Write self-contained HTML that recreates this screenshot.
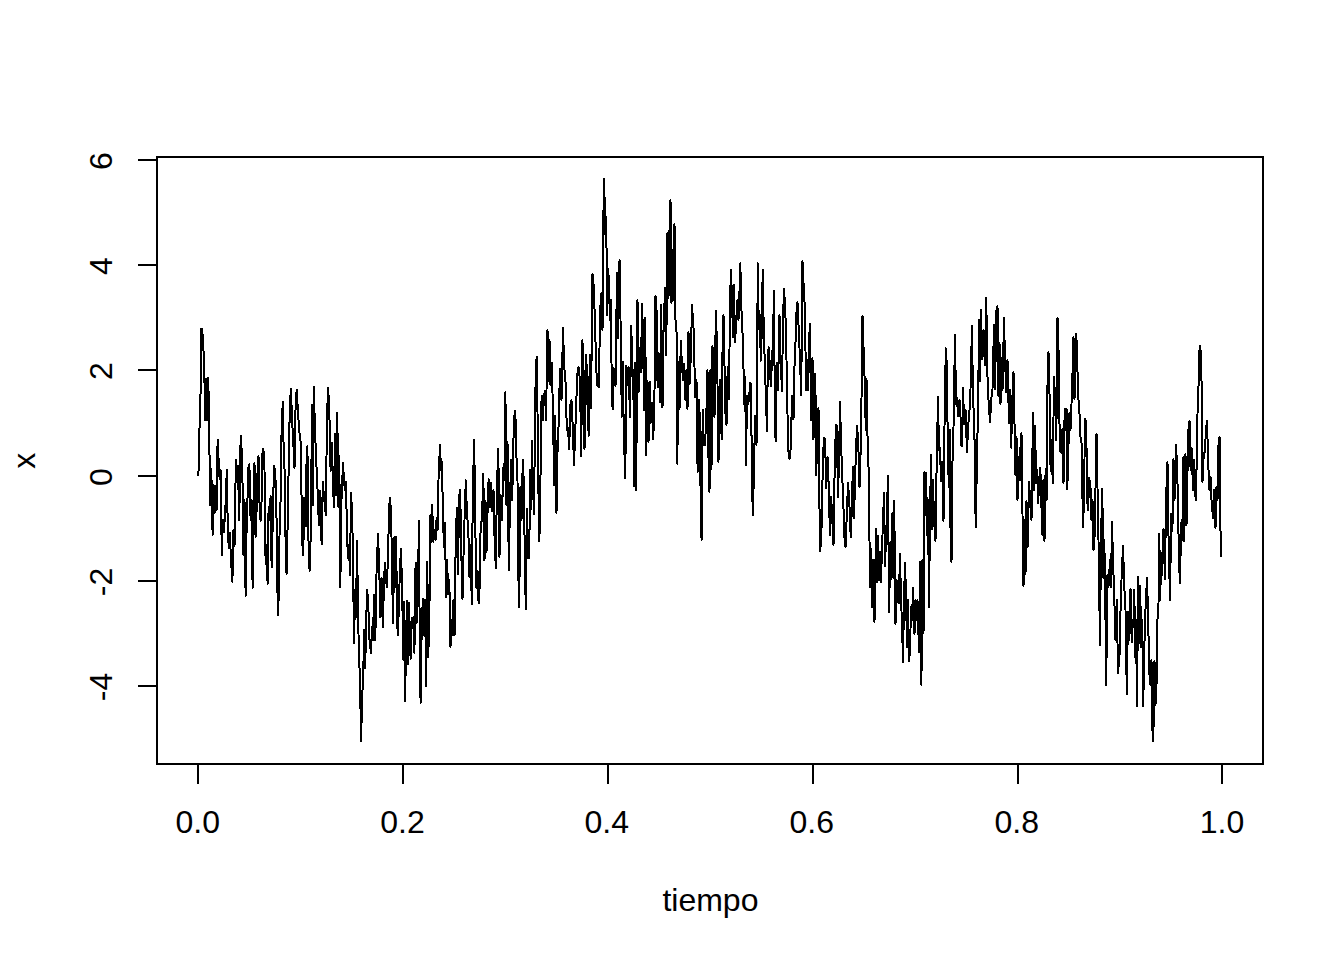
<!DOCTYPE html>
<html><head><meta charset="utf-8"><style>
html,body{margin:0;padding:0;background:#fff;}
body{width:1344px;height:960px;overflow:hidden;}
svg{display:block;}
text{font-family:"Liberation Sans",sans-serif;font-size:32px;fill:#000;}
</style></head><body>
<svg width="1344" height="960" viewBox="0 0 1344 960">
<rect x="0" y="0" width="1344" height="960" fill="#fff"/>
<rect x="157.0" y="157.0" width="1106.0" height="607.0" fill="none" stroke="#000" stroke-width="2" shape-rendering="crispEdges"/>
<path d="M198.0 764.0 L198.0 784.0 M403.0 764.0 L403.0 784.0 M608.0 764.0 L608.0 784.0 M813.0 764.0 L813.0 784.0 M1018.0 764.0 L1018.0 784.0 M1222.0 764.0 L1222.0 784.0 M157.0 686.0 L138.0 686.0 M157.0 581.0 L138.0 581.0 M157.0 476.0 L138.0 476.0 M157.0 370.0 L138.0 370.0 M157.0 265.0 L138.0 265.0 M157.0 160.0 L138.0 160.0" stroke="#000" stroke-width="2" fill="none" shape-rendering="crispEdges"/>
<path d="M198.40 476.0 L199.50 428.0 L200.30 415.0 L201.20 329.0 L202.20 329.0 L203.20 345.0 L204.20 365.0 L205.20 420.0 L206.30 379.0 L207.30 420.0 L208.30 378.0 L209.30 442.0 L210.30 505.0 L211.30 469.0 L212.60 534.6 L213.60 485.0 L214.60 513.0 L215.60 486.0 L216.60 510.0 L217.60 439.7 L218.60 460.0 L219.60 479.0 L220.60 470.0 L221.80 555.0 L222.80 520.0 L223.80 532.0 L224.80 518.0 L225.80 500.0 L226.80 470.0 L227.80 530.0 L228.80 548.0 L229.80 533.0 L231.00 560.0 L232.40 582.0 L233.40 530.0 L234.50 546.0 L235.90 459.4 L236.90 480.0 L237.90 466.0 L239.30 520.0 L240.15 452.3 L241.00 435.7 L242.30 467.0 L243.50 555.0 L244.50 500.0 L245.60 596.0 L246.60 527.0 L247.60 495.0 L248.50 466.8 L249.40 464.0 L250.60 520.0 L251.60 500.0 L252.60 588.0 L253.60 530.0 L254.50 463.4 L255.60 536.6 L256.60 510.0 L257.55 471.8 L258.50 456.5 L259.60 507.0 L260.60 521.0 L261.60 500.0 L262.50 453.3 L263.40 448.6 L264.50 470.0 L265.60 564.0 L266.60 545.0 L267.60 584.0 L268.60 507.0 L269.60 520.0 L270.60 496.0 L271.60 567.5 L272.60 528.0 L274.00 465.8 L275.20 472.0 L276.30 500.0 L277.30 586.8 L278.30 615.0 L279.50 536.0 L280.60 498.6 L281.70 423.1 L282.80 402.0 L283.80 458.0 L284.90 475.0 L285.75 562.0 L286.60 574.0 L287.70 521.6 L288.80 460.0 L289.85 404.7 L290.90 389.0 L292.10 420.0 L293.20 440.0 L294.50 468.0 L295.60 404.7 L296.70 390.0 L298.00 412.0 L299.20 430.0 L300.05 438.9 L300.90 443.0 L302.05 539.8 L303.20 555.5 L304.40 497.5 L305.70 526.0 L306.55 461.3 L307.40 446.0 L308.50 540.7 L309.60 570.8 L311.00 527.0 L311.93 405.3 L312.87 505.6 L313.80 387.0 L315.00 429.7 L316.20 460.0 L317.40 486.6 L318.90 525.0 L320.30 491.0 L321.60 544.5 L322.80 482.0 L324.30 500.0 L325.80 515.0 L327.00 414.8 L328.20 388.0 L329.40 414.0 L330.60 471.0 L332.00 443.0 L333.05 488.6 L334.10 507.0 L335.00 434.0 L335.90 494.9 L336.80 413.0 L337.80 441.7 L338.50 506.7 L339.30 456.0 L340.30 587.5 L341.50 500.0 L343.00 462.5 L344.00 481.7 L345.00 490.0 L346.00 481.7 L347.00 535.0 L348.00 558.0 L349.00 545.0 L350.00 575.0 L351.00 493.0 L352.20 514.0 L353.00 560.0 L354.00 643.0 L355.20 590.0 L356.00 617.0 L357.00 541.0 L358.00 606.7 L359.00 660.0 L360.00 675.0 L361.00 741.0 L362.30 696.0 L363.30 670.0 L364.20 630.0 L365.20 668.0 L366.20 620.0 L367.20 590.0 L368.20 603.0 L369.50 640.0 L371.00 653.0 L372.00 626.7 L373.00 640.0 L374.00 595.0 L375.30 640.0 L376.50 574.0 L378.00 534.0 L379.00 560.0 L380.50 617.5 L381.50 578.0 L383.00 627.5 L384.00 576.7 L385.20 563.0 L386.10 581.2 L387.00 587.5 L388.30 541.7 L389.30 504.1 L390.30 498.0 L391.50 537.0 L393.00 623.0 L394.50 537.0 L395.30 586.7 L396.20 536.7 L397.00 623.0 L398.00 635.4 L399.00 600.0 L400.00 568.0 L401.00 549.0 L402.00 585.0 L403.50 660.0 L404.30 602.0 L405.20 701.0 L406.00 640.0 L407.00 601.0 L407.80 664.6 L408.80 603.0 L409.80 628.0 L410.60 658.8 L411.60 617.5 L412.50 628.0 L413.50 617.0 L414.40 653.0 L415.60 562.5 L416.60 623.0 L417.60 600.0 L419.00 521.0 L419.80 657.0 L420.60 703.0 L421.80 620.0 L423.00 599.0 L424.00 635.0 L425.00 600.0 L426.20 686.5 L427.30 561.7 L428.20 657.0 L429.30 620.0 L430.50 515.0 L431.30 541.7 L432.20 505.0 L433.30 541.7 L434.50 530.0 L435.50 540.0 L436.60 518.0 L437.60 530.0 L438.50 480.0 L440.00 444.6 L441.00 470.0 L442.00 462.0 L443.00 520.0 L444.00 546.7 L445.00 523.0 L446.00 596.7 L447.00 560.0 L448.30 594.0 L449.30 580.0 L450.50 646.7 L451.50 620.0 L452.60 635.4 L453.50 600.0 L454.60 635.0 L455.80 533.5 L457.00 507.5 L458.00 574.6 L459.10 497.2 L460.20 490.0 L461.20 548.0 L462.50 599.0 L463.50 556.0 L464.50 520.0 L465.80 480.4 L467.00 516.0 L468.20 525.0 L469.50 577.0 L470.50 545.0 L471.80 604.0 L472.80 491.0 L474.20 440.0 L475.30 527.0 L476.50 588.0 L477.50 571.0 L478.40 600.1 L479.30 603.0 L480.30 537.0 L481.15 522.5 L482.00 520.0 L483.30 473.5 L484.50 560.5 L485.50 501.0 L486.50 552.0 L487.60 510.0 L488.60 479.4 L489.80 507.0 L491.00 483.0 L492.30 511.0 L493.50 490.0 L494.60 540.0 L495.80 568.0 L496.90 487.0 L498.30 449.0 L499.50 556.6 L500.60 495.0 L502.00 520.0 L503.20 467.6 L504.30 480.0 L505.40 392.0 L506.50 505.0 L507.50 442.0 L508.80 570.0 L510.00 499.0 L511.20 459.7 L512.20 500.0 L513.50 438.0 L514.40 416.1 L515.30 411.0 L516.50 457.7 L517.50 481.0 L518.35 575.1 L519.20 607.0 L520.50 487.0 L521.50 520.0 L522.80 459.7 L524.00 487.0 L524.95 574.7 L525.90 609.0 L527.00 509.0 L528.30 558.5 L529.20 558.0 L530.20 470.0 L531.20 509.0 L531.80 440.5 L532.80 480.0 L534.00 513.7 L535.30 396.4 L536.15 360.4 L537.00 357.0 L538.00 466.0 L539.40 541.4 L540.50 476.0 L541.60 395.5 L542.80 420.0 L544.00 396.4 L545.00 390.5 L546.00 420.0 L547.50 330.0 L548.50 380.6 L549.50 340.0 L550.50 384.6 L551.80 362.8 L553.00 415.0 L554.20 485.0 L555.20 416.0 L556.50 512.7 L557.50 452.4 L558.50 428.0 L560.00 368.8 L561.50 400.0 L563.00 328.0 L564.20 366.8 L565.60 382.6 L566.80 429.7 L568.00 428.0 L569.20 449.4 L570.30 405.3 L571.50 400.4 L572.80 428.0 L574.00 465.0 L575.20 432.6 L576.50 396.4 L577.50 372.6 L578.50 366.8 L580.00 380.0 L581.20 456.0 L582.40 340.0 L583.60 372.7 L584.50 449.4 L585.40 382.6 L586.30 355.0 L587.60 408.0 L588.70 435.6 L589.80 355.0 L591.00 408.0 L592.50 273.8 L593.70 285.7 L595.00 323.0 L596.30 370.7 L597.50 386.0 L599.00 386.8 L600.00 311.0 L601.50 293.0 L602.50 330.0 L603.20 224.0 L604.20 179.0 L605.20 234.0 L606.20 217.0 L607.20 315.0 L608.30 269.0 L609.30 300.0 L610.30 320.0 L611.00 300.0 L611.80 400.0 L612.80 409.0 L613.60 368.0 L614.60 380.0 L615.50 386.0 L617.00 272.5 L618.00 338.0 L618.80 273.3 L619.60 260.0 L620.50 319.0 L621.80 416.7 L622.80 362.0 L623.80 435.0 L625.30 478.0 L626.30 366.0 L627.50 385.0 L628.50 366.7 L630.00 416.7 L631.20 326.0 L632.30 363.0 L633.50 400.0 L634.30 486.0 L635.30 363.0 L636.20 490.0 L637.50 300.0 L638.50 392.5 L639.80 348.0 L640.80 372.0 L642.20 304.0 L643.20 349.0 L644.20 410.0 L645.20 318.0 L646.30 455.0 L647.50 381.0 L648.50 441.7 L649.60 381.7 L650.60 423.0 L652.00 403.0 L653.00 439.0 L654.20 420.0 L655.50 296.0 L656.60 311.7 L657.60 387.5 L658.60 353.0 L660.00 401.7 L661.20 305.0 L662.50 407.5 L663.50 333.0 L665.00 288.0 L666.20 355.0 L667.50 233.0 L668.50 298.0 L669.50 230.0 L670.50 200.0 L671.50 303.0 L672.50 250.0 L673.50 300.0 L674.50 224.0 L675.50 320.0 L676.50 332.0 L677.30 463.7 L678.50 362.0 L679.50 409.0 L680.80 341.0 L681.80 362.0 L683.00 380.0 L684.30 364.0 L685.50 400.0 L686.50 370.0 L687.50 409.0 L688.50 332.0 L689.80 383.6 L691.00 350.0 L692.00 305.0 L693.00 320.5 L694.00 335.0 L695.00 397.5 L696.50 380.0 L697.60 471.6 L698.80 400.0 L700.00 420.0 L700.80 524.0 L701.60 540.0 L702.70 410.0 L703.80 445.0 L705.00 445.0 L706.20 420.0 L707.50 370.0 L708.50 457.8 L709.50 492.0 L710.50 370.0 L711.50 468.6 L712.50 346.0 L713.50 380.0 L714.50 417.0 L715.80 311.0 L717.00 345.0 L718.50 461.7 L719.80 380.0 L720.80 420.0 L721.80 439.0 L722.65 336.4 L723.50 315.0 L724.80 380.0 L725.65 420.5 L726.50 425.0 L727.70 367.0 L729.00 399.4 L730.00 300.0 L731.00 270.0 L732.00 298.0 L733.00 337.0 L734.00 285.0 L735.00 342.0 L736.50 320.0 L737.50 300.0 L738.50 320.0 L739.20 302.0 L740.30 263.4 L741.30 307.0 L742.30 325.0 L743.50 368.6 L744.30 404.7 L745.20 376.6 L746.00 465.0 L747.00 396.0 L748.30 404.0 L749.30 396.0 L750.00 383.0 L751.00 383.5 L751.90 474.5 L752.80 515.5 L754.00 471.0 L755.00 416.0 L756.50 445.0 L757.80 263.4 L758.80 329.0 L759.80 315.0 L760.80 360.7 L761.80 331.0 L762.70 269.8 L763.80 333.0 L764.80 362.7 L766.00 400.0 L767.00 431.4 L767.80 363.3 L768.60 347.0 L769.80 364.7 L770.80 386.4 L772.00 360.0 L773.00 340.0 L774.00 290.5 L774.80 409.7 L775.60 441.3 L776.80 362.7 L778.00 390.0 L779.50 315.0 L780.60 360.7 L782.00 391.0 L783.00 319.8 L784.00 288.6 L785.30 309.0 L786.50 360.0 L787.50 414.0 L788.50 451.5 L789.50 459.0 L790.80 447.0 L792.00 396.0 L793.50 419.5 L794.80 351.0 L795.80 339.0 L796.65 306.6 L797.50 302.4 L798.70 329.0 L800.00 360.0 L801.20 394.8 L802.50 261.5 L803.80 289.5 L805.00 311.0 L806.00 390.0 L807.00 360.0 L808.00 390.0 L809.00 340.0 L810.00 324.0 L811.00 420.0 L812.50 358.0 L813.50 439.5 L814.50 390.0 L815.30 373.6 L816.30 475.0 L817.50 410.0 L818.50 408.0 L819.30 497.0 L820.30 551.0 L821.50 528.5 L822.50 481.0 L823.80 438.0 L825.00 438.6 L826.30 488.0 L827.50 457.0 L828.50 480.0 L830.00 535.5 L831.20 497.0 L832.30 520.0 L833.50 545.3 L834.80 459.0 L836.00 425.0 L836.80 425.7 L838.00 497.0 L839.00 460.0 L840.00 402.0 L841.20 447.5 L842.50 483.0 L843.80 516.7 L844.65 541.9 L845.50 547.3 L846.80 514.7 L848.00 483.0 L849.30 500.0 L850.15 527.8 L851.00 537.4 L852.20 490.0 L853.00 467.0 L854.00 518.6 L855.50 465.0 L857.00 425.7 L858.20 440.0 L859.50 487.0 L861.00 440.0 L862.50 316.0 L863.60 350.0 L864.60 378.5 L865.80 430.0 L866.50 379.0 L867.70 446.0 L868.80 475.0 L870.00 586.7 L871.00 549.0 L872.00 607.5 L873.00 560.0 L874.50 621.7 L876.00 529.0 L877.00 582.5 L878.00 536.0 L879.00 580.0 L880.00 552.0 L881.00 582.0 L882.00 547.0 L883.00 523.0 L884.00 493.0 L885.00 566.0 L886.00 540.0 L887.00 510.0 L888.00 476.0 L889.00 612.5 L890.50 542.5 L891.50 579.0 L892.50 513.0 L893.50 578.0 L894.20 501.0 L895.50 624.0 L896.50 580.0 L897.50 601.7 L898.80 603.0 L900.00 554.0 L901.00 600.0 L902.00 622.5 L903.00 662.5 L904.00 600.0 L905.00 563.0 L906.00 595.0 L907.00 646.7 L908.00 600.0 L909.00 661.0 L910.00 651.7 L911.00 606.7 L912.00 620.0 L913.00 588.0 L914.50 634.0 L915.50 600.0 L916.50 620.0 L917.50 600.0 L919.00 651.7 L920.30 561.7 L921.40 685.0 L922.50 560.0 L923.50 633.0 L924.50 471.7 L925.50 515.0 L926.20 473.4 L927.00 534.7 L928.00 500.0 L929.00 607.0 L930.00 520.0 L931.00 454.5 L932.00 528.8 L933.00 480.0 L934.00 520.0 L935.50 540.6 L936.50 473.4 L938.00 396.8 L939.00 449.7 L940.00 448.0 L941.00 481.3 L942.00 462.0 L943.50 520.9 L944.50 426.4 L945.80 348.3 L946.80 365.0 L947.80 446.0 L948.80 487.0 L949.80 430.0 L950.65 546.7 L951.50 562.4 L952.50 461.5 L953.50 428.0 L955.00 334.5 L956.00 403.7 L957.00 397.8 L958.00 416.6 L959.50 400.0 L960.50 416.6 L961.50 446.0 L962.20 445.7 L963.00 388.0 L964.20 424.5 L965.50 410.0 L967.00 452.0 L968.00 428.4 L969.50 410.0 L970.50 389.0 L972.00 325.6 L973.00 400.7 L974.30 418.5 L975.15 505.4 L976.00 526.8 L977.00 443.7 L978.00 422.5 L979.00 319.7 L980.00 381.0 L981.00 309.8 L982.20 359.0 L983.50 330.0 L984.80 365.0 L986.30 298.0 L987.20 369.0 L988.50 400.0 L990.00 422.5 L991.30 398.8 L992.50 389.0 L994.00 324.6 L995.00 389.0 L996.50 310.0 L997.50 305.9 L998.50 396.0 L999.50 343.4 L1000.50 403.8 L1001.50 358.0 L1002.50 390.0 L1004.00 318.3 L1005.00 360.0 L1006.30 392.0 L1007.50 360.0 L1009.00 423.5 L1010.20 390.0 L1011.20 447.7 L1012.30 400.0 L1013.50 372.0 L1014.50 423.5 L1015.50 475.4 L1016.50 437.0 L1017.50 500.0 L1018.60 456.6 L1019.70 480.0 L1020.70 440.0 L1021.50 432.9 L1022.50 514.0 L1023.50 586.0 L1024.50 520.0 L1025.50 574.0 L1026.50 501.0 L1027.80 546.6 L1029.00 482.0 L1030.20 500.0 L1031.50 520.0 L1033.00 413.0 L1034.00 490.0 L1035.00 425.5 L1036.20 483.0 L1037.20 470.0 L1038.20 503.0 L1039.20 480.0 L1040.30 467.5 L1041.30 500.0 L1042.30 534.7 L1043.50 480.0 L1044.50 540.6 L1045.60 469.4 L1046.60 500.0 L1047.55 381.5 L1048.50 352.3 L1049.60 397.8 L1050.60 471.4 L1051.70 440.0 L1052.70 483.0 L1054.00 377.0 L1055.20 400.0 L1056.30 440.0 L1057.50 317.7 L1058.50 348.4 L1059.50 423.5 L1060.50 451.6 L1061.50 453.0 L1062.50 429.5 L1063.50 483.0 L1064.70 408.7 L1065.70 430.0 L1066.50 409.0 L1067.30 489.0 L1068.50 444.5 L1069.50 413.0 L1070.50 430.0 L1072.00 391.0 L1073.50 336.7 L1074.50 399.0 L1075.50 340.0 L1076.30 333.7 L1077.30 365.0 L1078.30 397.0 L1079.30 409.0 L1080.50 436.6 L1081.50 442.5 L1083.00 527.3 L1084.00 499.7 L1085.00 418.8 L1086.20 422.7 L1087.20 500.0 L1088.00 510.5 L1089.30 478.0 L1090.50 487.8 L1091.50 520.0 L1092.50 500.0 L1093.50 550.0 L1094.50 538.0 L1095.50 489.0 L1096.50 433.6 L1097.50 488.0 L1098.50 540.0 L1100.00 645.0 L1101.00 537.0 L1102.30 489.0 L1103.30 577.8 L1104.30 540.0 L1105.30 600.0 L1106.20 685.0 L1107.50 575.0 L1108.50 586.7 L1110.00 560.0 L1111.00 586.7 L1112.00 521.4 L1113.00 561.0 L1114.20 594.6 L1115.50 640.0 L1116.80 600.0 L1118.00 673.0 L1119.50 656.0 L1120.50 611.4 L1121.50 580.0 L1123.00 546.0 L1124.30 586.7 L1125.50 610.0 L1126.80 693.8 L1128.00 612.0 L1129.00 640.0 L1130.50 588.6 L1131.70 642.0 L1133.00 620.0 L1133.50 620.0 L1134.30 589.7 L1135.20 657.0 L1136.00 620.0 L1137.00 706.5 L1138.20 576.8 L1139.20 643.0 L1140.20 585.7 L1141.20 647.0 L1142.20 620.0 L1143.20 706.5 L1144.50 641.0 L1145.50 609.5 L1147.00 578.0 L1148.20 619.4 L1149.20 671.0 L1150.40 684.8 L1151.50 660.0 L1152.40 729.7 L1153.30 741.0 L1154.50 661.0 L1155.50 704.6 L1156.50 685.7 L1157.50 619.4 L1158.50 603.6 L1159.30 534.0 L1160.20 600.0 L1161.20 553.0 L1162.20 575.0 L1163.50 529.0 L1165.00 579.4 L1166.00 500.6 L1167.50 462.0 L1168.50 535.6 L1170.00 600.0 L1171.20 514.0 L1172.40 531.0 L1173.50 459.0 L1174.50 500.0 L1176.00 444.8 L1177.20 467.8 L1178.20 518.0 L1179.10 564.3 L1180.00 582.7 L1181.20 522.5 L1182.20 540.0 L1183.50 457.0 L1184.30 541.0 L1185.50 453.6 L1186.50 524.7 L1187.70 461.0 L1188.60 425.8 L1189.50 420.8 L1190.60 470.0 L1191.60 448.0 L1193.00 489.7 L1194.30 460.0 L1195.15 494.3 L1196.00 500.6 L1197.50 414.0 L1198.60 384.0 L1199.40 350.5 L1200.20 345.5 L1201.30 360.0 L1202.50 482.0 L1203.60 457.0 L1205.00 450.0 L1206.00 428.8 L1207.00 420.8 L1208.30 465.6 L1209.50 489.7 L1210.50 476.6 L1211.50 500.0 L1213.00 518.0 L1214.00 490.0 L1215.50 528.0 L1216.50 487.5 L1217.50 500.0 L1218.50 444.9 L1219.50 436.8 L1220.35 524.1 L1221.20 557.0" stroke="#000" stroke-width="2" fill="none" stroke-linejoin="round" shape-rendering="crispEdges"/>
<text x="197.7" y="833" text-anchor="middle">0.0</text>
<text x="402.5" y="833" text-anchor="middle">0.2</text>
<text x="606.7" y="833" text-anchor="middle">0.4</text>
<text x="811.8" y="833" text-anchor="middle">0.6</text>
<text x="1016.7" y="833" text-anchor="middle">0.8</text>
<text x="1222.0" y="833" text-anchor="middle">1.0</text>
<text transform="translate(112 687.0) rotate(-90)" text-anchor="middle">-4</text>
<text transform="translate(112 582.0) rotate(-90)" text-anchor="middle">-2</text>
<text transform="translate(112 477.0) rotate(-90)" text-anchor="middle">0</text>
<text transform="translate(112 371.0) rotate(-90)" text-anchor="middle">2</text>
<text transform="translate(112 266.0) rotate(-90)" text-anchor="middle">4</text>
<text transform="translate(112 161.0) rotate(-90)" text-anchor="middle">6</text>
<text x="710.4" y="911" text-anchor="middle">tiempo</text>
<text transform="translate(35.3 460.8) rotate(-90)" text-anchor="middle">x</text>
</svg>
</body></html>
